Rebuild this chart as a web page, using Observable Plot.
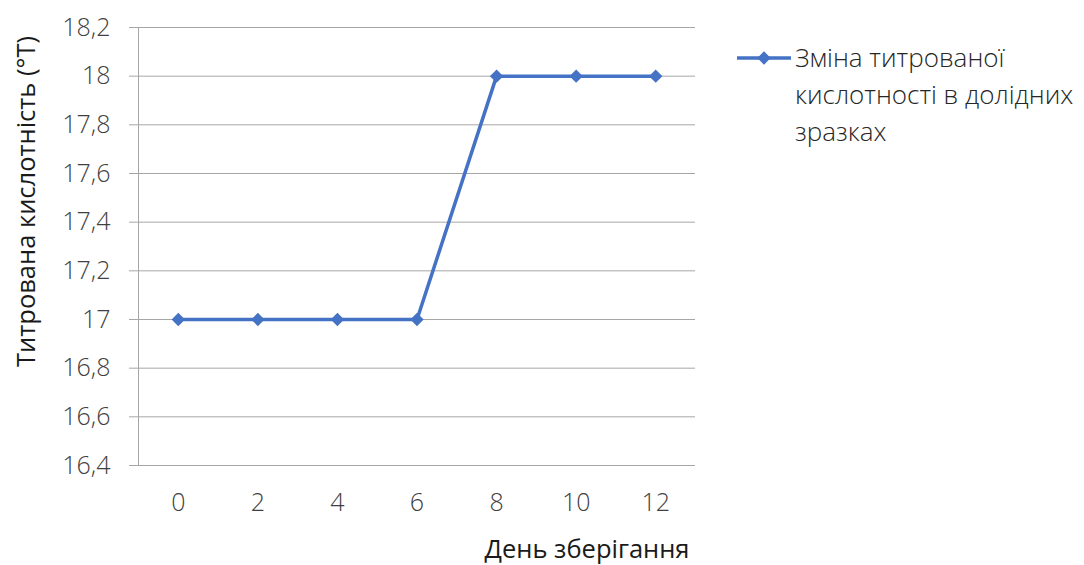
<!DOCTYPE html>
<html><head><meta charset="utf-8">
<script src="https://cdn.jsdelivr.net/npm/d3@7"></script>
<script src="https://cdn.jsdelivr.net/npm/@observablehq/plot@0.6"></script>
<style>
body{margin:0;background:#fff;}
#wrap{position:relative;width:1084px;height:565px;font-family:"Open Sans",sans-serif;}
#legend{position:absolute;left:737px;top:39px;display:flex;align-items:flex-start;}
#legend .lbl{font-size:26px;line-height:37px;color:#262626;font-weight:300;margin-left:4px;white-space:nowrap;}
</style></head><body><div id="wrap"></div>
<script>
const days = [0, 2, 4, 6, 8, 10, 12];
const acidity = [17, 17, 17, 17, 18, 18, 18];
const xTicks = [0, 2, 4, 6, 8, 10, 12];
const yTicks = [16.4, 16.6, 16.8, 17, 17.2, 17.4, 17.6, 17.8, 18, 18.2];
const xTitle = "День зберігання";
const yTitle = "Титрована кислотність (°T)";
const legendLines = ["Зміна титрованої", "кислотності в долідних", "зразках"];

const color = "#4472C4";
const grid = "#a6a6a6";
const data = days.map((d, i) => ({day: d, value: acidity[i]}));
const fmt = d => String(+d.toFixed(1)).replace(".", ",");

const chart = Plot.plot({
  width: 1084, height: 565,
  marginLeft: 138, marginRight: 389, marginTop: 27, marginBottom: 100,
  style: {fontFamily: "'Open Sans', sans-serif", fontSize: "25px", color: "#404040", fontWeight: 300, background: "transparent"},
  x: {domain: [-1, 13]},
  y: {domain: [16.4, 18.2]},
  marks: [
    Plot.ruleY(yTicks, {stroke: grid, strokeWidth: 1}),
    Plot.ruleX([-1], {stroke: grid, strokeWidth: 1}),
    Plot.axisY({ticks: yTicks, tickSize: 9, tickPadding: 19, stroke: grid, tickFormat: fmt, label: null, fontSize: 25}),
    Plot.axisX({ticks: xTicks, tickSize: 0, tickPadding: 28, tickFormat: d => String(d), label: null, fontSize: 25}),
    Plot.line(data, {x: "day", y: "value", stroke: color, strokeWidth: 3.5}),
    Plot.dot(data, {x: "day", y: "value", symbol: "diamond2", r: 6, fill: color, stroke: "none"}),
    Plot.text([yTitle], {frameAnchor: "left", textAnchor: "middle", rotate: -90, dx: -112, dy: -45, fontSize: 25.5, fill: "#1a1a1a", fontWeight: 400}),
    Plot.text([xTitle], {frameAnchor: "bottom", dx: 170, dy: 92, fontSize: 25.5, fill: "#1a1a1a", fontWeight: 400})
  ]
});
const wrap = document.getElementById("wrap");
wrap.appendChild(chart);

const legend = document.createElement("div");
legend.id = "legend";
const sw = d3.create("svg").attr("width", 54).attr("height", 37);
sw.append("line").attr("x1", 0).attr("x2", 54).attr("y1", 19).attr("y2", 19).attr("stroke", color).attr("stroke-width", 3.5);
sw.append("path").attr("d", d3.symbol(d3.symbolDiamond2, 113)()).attr("transform", "translate(27,19)").attr("fill", color);
legend.appendChild(sw.node());
const lbl = document.createElement("div");
lbl.className = "lbl";
lbl.innerHTML = legendLines.join("<br>");
legend.appendChild(lbl);
wrap.appendChild(legend);
</script></body></html>
